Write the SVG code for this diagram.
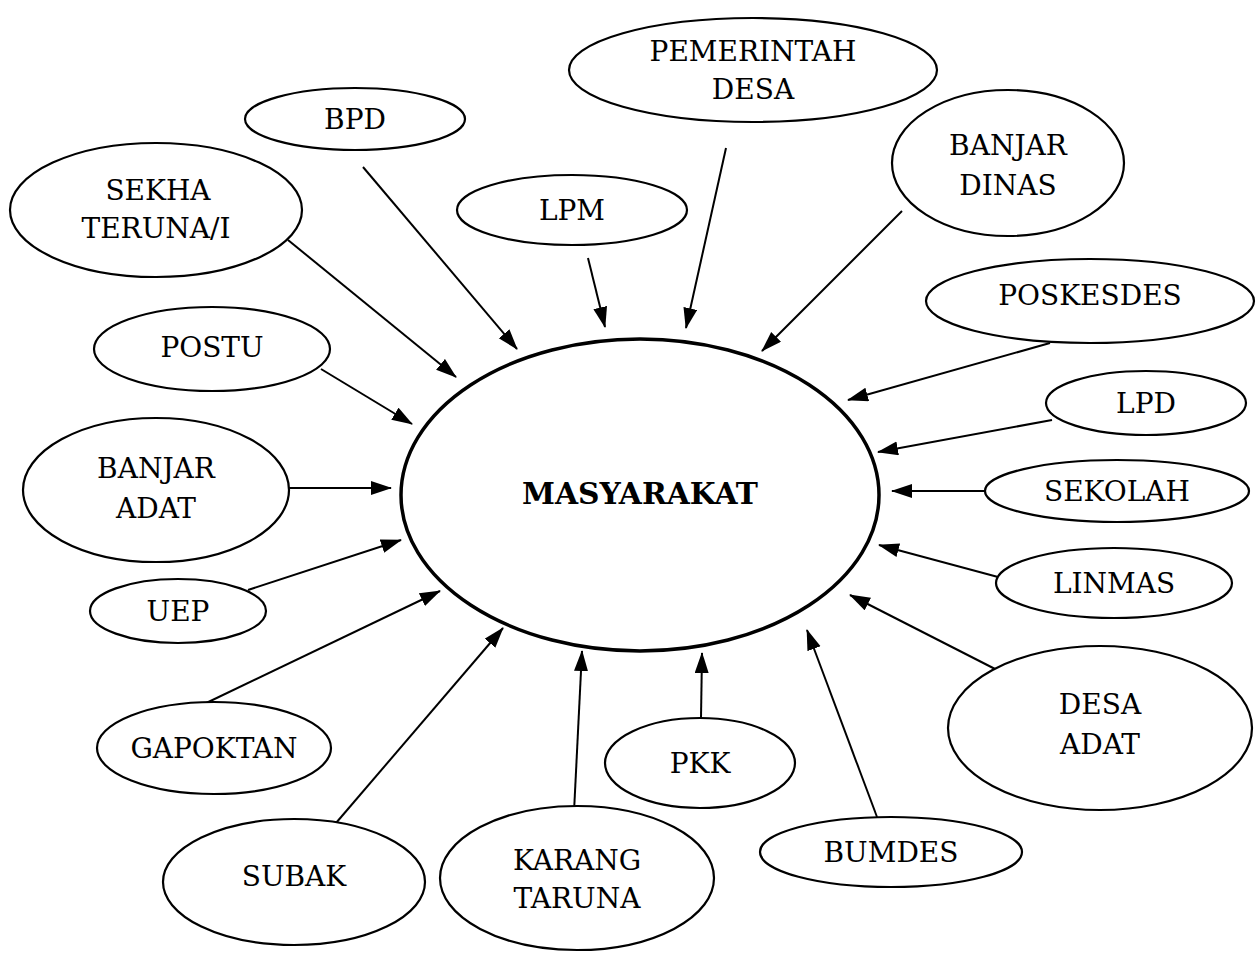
<svg xmlns="http://www.w3.org/2000/svg" width="1258" height="962" viewBox="0 0 1258 962">
<style>
.n{fill:#fff;stroke:#000;stroke-width:2.2}
.t{font-family:"DejaVu Serif","Liberation Serif",serif;font-size:28px;fill:#000;text-anchor:middle}
.c line{stroke:#000;stroke-width:2}
</style>
<defs>
<marker id="ah" markerUnits="userSpaceOnUse" markerWidth="22" markerHeight="16" refX="20" refY="7" orient="auto">
<path d="M0,0 L21,7 L0,14 z" fill="#000"/>
</marker>
</defs>
<rect width="1258" height="962" fill="#fff"/>
<g id="center">
<ellipse cx="640" cy="495" rx="239" ry="156" fill="#fff" stroke="#000" stroke-width="3.5"/>
<text x="640" y="504" font-family="'DejaVu Serif','Liberation Serif',serif" font-weight="bold" font-size="29" text-anchor="middle" textLength="236" lengthAdjust="spacingAndGlyphs">MASYARAKAT</text>
</g>
<g class="c">
<line x1="726" y1="148" x2="686" y2="328" marker-end="url(#ah)"/>
<line x1="363" y1="167" x2="517" y2="349" marker-end="url(#ah)"/>
<line x1="588" y1="258" x2="605" y2="327" marker-end="url(#ah)"/>
<line x1="288" y1="240" x2="456" y2="377" marker-end="url(#ah)"/>
<line x1="902" y1="211" x2="762" y2="351" marker-end="url(#ah)"/>
<line x1="1050" y1="343" x2="848" y2="400" marker-end="url(#ah)"/>
<line x1="321" y1="369" x2="412" y2="424" marker-end="url(#ah)"/>
<line x1="1052" y1="420" x2="878" y2="452" marker-end="url(#ah)"/>
<line x1="288" y1="488" x2="391" y2="488" marker-end="url(#ah)"/>
<line x1="986" y1="491" x2="892" y2="491" marker-end="url(#ah)"/>
<line x1="998" y1="577" x2="879" y2="545" marker-end="url(#ah)"/>
<line x1="248" y1="590" x2="401" y2="540" marker-end="url(#ah)"/>
<line x1="999" y1="671" x2="850" y2="595" marker-end="url(#ah)"/>
<line x1="200" y1="706" x2="440" y2="591" marker-end="url(#ah)"/>
<line x1="701" y1="718" x2="702" y2="653" marker-end="url(#ah)"/>
<line x1="877" y1="817" x2="807" y2="630" marker-end="url(#ah)"/>
<line x1="330" y1="830" x2="503" y2="628" marker-end="url(#ah)"/>
<line x1="574" y1="812" x2="582" y2="651" marker-end="url(#ah)"/>
</g>
<g id="pemerintah-desa"><ellipse class="n" cx="753" cy="70" rx="184" ry="52"/><text class="t" x="753" y="61">PEMERINTAH</text><text class="t" x="753" y="99">DESA</text></g>
<g id="bpd"><ellipse class="n" cx="355" cy="119" rx="110" ry="31"/><text class="t" x="355" y="129">BPD</text></g>
<g id="lpm"><ellipse class="n" cx="572" cy="210" rx="115" ry="35"/><text class="t" x="572" y="220">LPM</text></g>
<g id="sekha"><ellipse class="n" cx="156" cy="210" rx="146" ry="67"/><text class="t" x="158" y="200">SEKHA</text><text class="t" x="156" y="238">TERUNA/I</text></g>
<g id="banjar-dinas"><ellipse class="n" cx="1008" cy="163" rx="116" ry="73"/><text class="t" x="1008" y="155">BANJAR</text><text class="t" x="1008" y="195">DINAS</text></g>
<g id="poskesdes"><ellipse class="n" cx="1090" cy="301" rx="164" ry="42"/><text class="t" x="1090" y="305">POSKESDES</text></g>
<g id="postu"><ellipse class="n" cx="212" cy="349" rx="118" ry="42"/><text class="t" x="212" y="357">POSTU</text></g>
<g id="lpd"><ellipse class="n" cx="1146" cy="403" rx="100" ry="32"/><text class="t" x="1146" y="413">LPD</text></g>
<g id="banjar-adat"><ellipse class="n" cx="156" cy="490" rx="133" ry="72"/><text class="t" x="156" y="478">BANJAR</text><text class="t" x="156" y="518">ADAT</text></g>
<g id="sekolah"><ellipse class="n" cx="1117" cy="491" rx="132" ry="31"/><text class="t" x="1117" y="501">SEKOLAH</text></g>
<g id="linmas"><ellipse class="n" cx="1114" cy="583" rx="118" ry="35"/><text class="t" x="1114" y="593">LINMAS</text></g>
<g id="uep"><ellipse class="n" cx="178" cy="611" rx="88" ry="32"/><text class="t" x="178" y="621">UEP</text></g>
<g id="desa-adat"><ellipse class="n" cx="1100" cy="728" rx="152" ry="82"/><text class="t" x="1100" y="714">DESA</text><text class="t" x="1100" y="754">ADAT</text></g>
<g id="gapoktan"><ellipse class="n" cx="214" cy="748" rx="117" ry="46"/><text class="t" x="214" y="758">GAPOKTAN</text></g>
<g id="pkk"><ellipse class="n" cx="700" cy="763" rx="95" ry="45"/><text class="t" x="700" y="773">PKK</text></g>
<g id="bumdes"><ellipse class="n" cx="891" cy="852" rx="131" ry="35"/><text class="t" x="891" y="862">BUMDES</text></g>
<g id="subak"><ellipse class="n" cx="294" cy="882" rx="131" ry="63"/><text class="t" x="294" y="886">SUBAK</text></g>
<g id="karang-taruna"><ellipse class="n" cx="577" cy="878" rx="137" ry="72"/><text class="t" x="577" y="870">KARANG</text><text class="t" x="577" y="908">TARUNA</text></g>
</svg>
